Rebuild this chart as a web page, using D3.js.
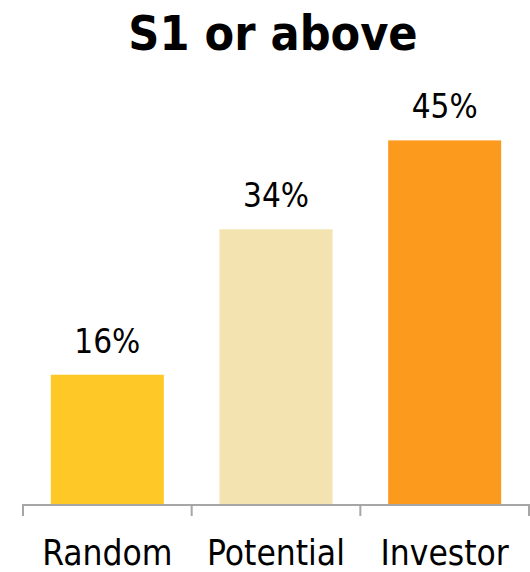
<!DOCTYPE html>
<html lang="en">
<head>
	<meta charset="UTF-8">
	<title>S1 or above</title>
	<style>
		body { margin: 0; background: #fff; }
		.Axis path, .Axis line {
			stroke: #a6a6a6;
			stroke-width: 2;
		}
		.Axis text {
			font-family: "DejaVu Sans Condensed", "DejaVu Sans", sans-serif;
			font-size: 35px;
			fill: #000;
		}
		.val {
			font-family: "DejaVu Sans Condensed", "DejaVu Sans", sans-serif;
			font-size: 33px;
			fill: #000;
		}
		.title {
			font-family: "DejaVu Sans Condensed", "DejaVu Sans", sans-serif;
			font-weight: bold;
			font-size: 48px;
			fill: #000;
		}
	</style>
	<script src="https://d3js.org/d3.v7.min.js"></script>
</head>
<body>
	<script type="text/javascript">

		var categories = ["Random", "Potential", "Investor"];
		var values = [16, 34, 45];
		var labels = ["16%", "34%", "45%"];
		var colors = ["#fec827", "#f2e3b0", "#fc9a1d"];

		const w = 530,
			  h = 572;

		const svg = d3.select("body")
			.append("svg")
			.attr("width", w)
			.attr("height", h);

		var xScale = d3.scaleBand()
			.domain(categories)
			.range([23, 529])
			.paddingInner(0.33)
			.paddingOuter(0.165);

		var yScale = d3.scaleLinear()
			.domain([0, 50])
			.range([504, 100]);

		svg.append("text")
			.attr("class", "title")
			.attr("x", 273)
			.attr("y", 50)
			.attr("text-anchor", "middle")
			.text("S1 or above");

		svg.append("g").selectAll("rect")
			.data(values).enter()
			.append("rect")
			.attr("x", (d, i) => xScale(categories[i]))
			.attr("y", (d) => yScale(d))
			.attr("width", xScale.bandwidth())
			.attr("height", (d) => yScale(0) - yScale(d))
			.attr("fill", (d, i) => colors[i]);

		svg.append("g").selectAll("text")
			.data(values).enter()
			.append("text")
			.attr("class", "val")
			.attr("x", (d, i) => xScale(categories[i]) + xScale.bandwidth() / 2)
			.attr("y", (d) => yScale(d) - 22)
			.attr("text-anchor", "middle")
			.text((d, i) => labels[i]);

		// axis: ticks sit on band edges, not centres
		var edge = d3.scaleLinear().domain([0, 3]).range([23, 529]);
		var xAxis = svg.append("g")
			.attr("class", "Axis x")
			.attr("transform", "translate(0,505)");

		xAxis.append("path")
			.attr("fill", "none")
			.attr("d", "M" + edge(0) + ",11V0H" + edge(3) + "V11");

		xAxis.selectAll("line")
			.data([1, 2]).enter()
			.append("line")
			.attr("x1", (d) => edge(d)).attr("x2", (d) => edge(d))
			.attr("y1", 0).attr("y2", 11);

		xAxis.selectAll("text")
			.data(categories).enter()
			.append("text")
			.attr("x", (d) => xScale(d) + xScale.bandwidth() / 2)
			.attr("y", 60)
			.attr("text-anchor", "middle")
			.text((d) => d);

	</script>
</body>
</html>
